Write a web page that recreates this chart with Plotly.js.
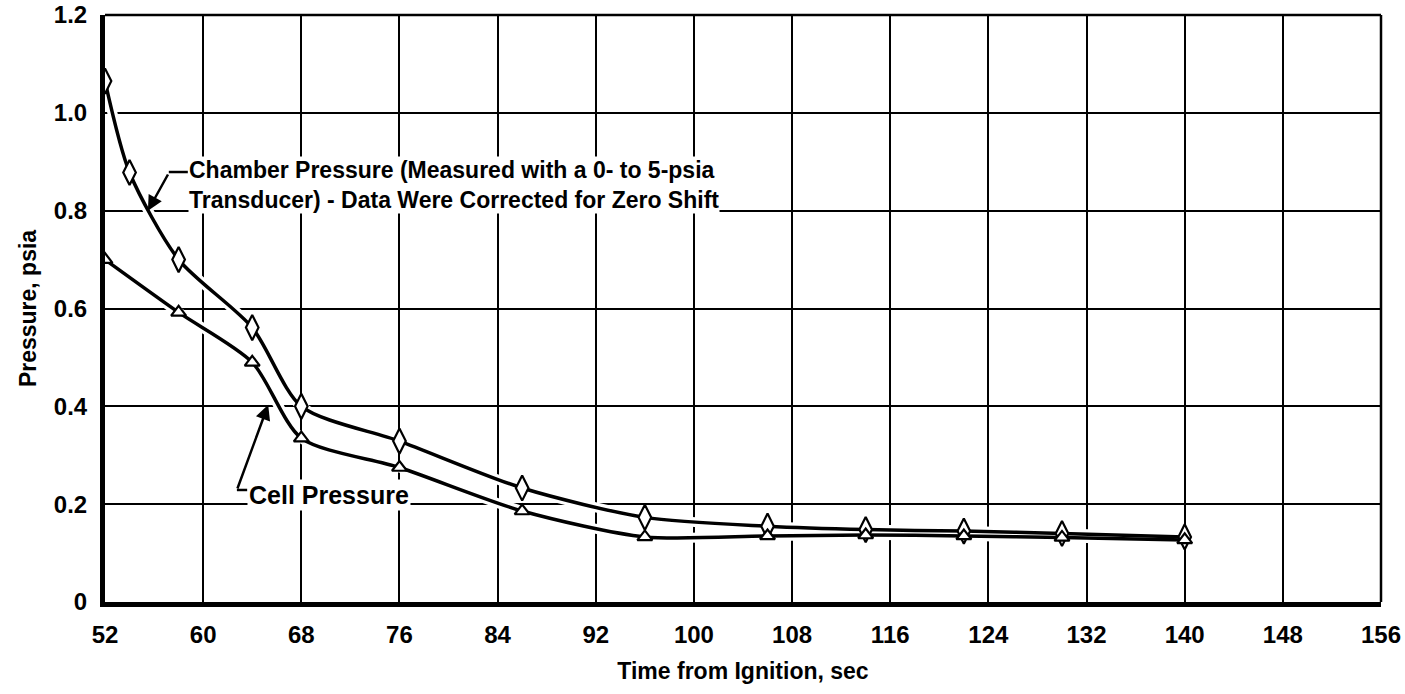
<!DOCTYPE html>
<html>
<head>
<meta charset="utf-8">
<script src="https://cdn.plot.ly/plotly-3.0.1.min.js"></script>
<style>html,body{margin:0;padding:0;background:#fff;}#chart{width:1405px;height:694px;}</style>
</head>
<body>
<div id="chart"></div>
<script>
// ---- data ----
var chamberTime = [52, 54, 58, 64, 68, 76, 86, 96, 106, 114, 122, 130, 140];
var chamberPressure = [1.065, 0.878, 0.70, 0.561, 0.40, 0.329, 0.233, 0.173, 0.155, 0.148, 0.145, 0.140, 0.133];
var cellTime = [52, 58, 64, 68, 76, 86, 96, 106, 114, 122, 130, 140];
var cellPressure = [0.70, 0.592, 0.49, 0.335, 0.275, 0.186, 0.133, 0.135, 0.137, 0.135, 0.132, 0.127];
var xTickVals = [52, 60, 68, 76, 84, 92, 100, 108, 116, 124, 132, 140, 148, 156];
var yTickVals = [0, 0.2, 0.4, 0.6, 0.8, 1.0, 1.2];
var yTickText = ["0", "0.2", "0.4", "0.6", "0.8", "1.0", "1.2"];
var chamberLabel = "Chamber Pressure (Measured with a 0- to 5-psia<br>Transducer) - Data Were Corrected for Zero Shift";
var cellLabel = "Cell Pressure";

var FONT = "Liberation Sans Narrow, Arial Narrow, Liberation Sans, sans-serif";

var halo = {shape: 'spline', smoothing: 0.75, color: '#fff', width: 10};
var traces = [
  {x: chamberTime, y: chamberPressure, mode: 'lines', line: halo, hoverinfo: 'skip', showlegend: false},
  {x: cellTime, y: cellPressure, mode: 'lines', line: halo, hoverinfo: 'skip', showlegend: false},
  {x: chamberTime, y: chamberPressure, mode: 'lines+markers', name: 'Chamber Pressure',
   line: {shape: 'spline', smoothing: 0.75, color: '#000', width: 3.5},
   marker: {symbol: 'diamond-tall', size: 18, color: '#fff', line: {color: '#000', width: 2.2}}, showlegend: false},
  {x: cellTime, y: cellPressure, mode: 'lines+markers', name: 'Cell Pressure',
   line: {shape: 'spline', smoothing: 0.75, color: '#000', width: 3.5},
   marker: {symbol: 'triangle-up', size: 13, color: '#fff', line: {color: '#000', width: 2.2}}, showlegend: false}
];

var layout = {
  width: 1405, height: 694,
  margin: {l: 105, r: 24, t: 15, b: 92},
  paper_bgcolor: '#fff', plot_bgcolor: '#fff',
  font: {family: FONT, color: '#000', size: 24, weight: 'bold'},
  showlegend: false,
  xaxis: {
    range: [52, 156], tickvals: xTickVals, ticktext: xTickVals.map(String),
    showgrid: true, gridcolor: '#000', gridwidth: 2, zeroline: false,
    showline: true, linecolor: '#000', linewidth: 5, ticks: '',
    ticklabelstandoff: 7,
    tickfont: {family: FONT, size: 24, weight: 'bold', color: '#000'},
    title: {text: 'Time from Ignition, sec', standoff: 18, font: {family: FONT, size: 23, weight: 'bold', color: '#000'}}
  },
  yaxis: {
    range: [0, 1.2], tickvals: yTickVals, ticktext: yTickText,
    showgrid: true, gridcolor: '#000', gridwidth: 2, zeroline: false,
    showline: true, linecolor: '#000', linewidth: 5, ticks: '',
    ticklabelstandoff: 8,
    tickfont: {family: FONT, size: 24, weight: 'bold', color: '#000'},
    title: {text: 'Pressure, psia', standoff: 12, font: {family: FONT, size: 23, weight: 'bold', color: '#000'}}
  },
  shapes: [
    {type: 'line', xref: 'paper', yref: 'paper', x0: 0, x1: 1, y0: 1, y1: 1, line: {color: '#000', width: 2.5}},
    {type: 'line', xref: 'paper', yref: 'paper', x0: 1, x1: 1, y0: 0, y1: 1, line: {color: '#000', width: 2.5}},
    {type: 'line', xref: 'x', yref: 'y', x0: 57.2, x1: 58.75, y0: 0.879, y1: 0.879, line: {color: '#000', width: 2.5}},
    {type: 'line', xref: 'x', yref: 'y', x0: 62.75, x1: 63.6, y0: 0.229, y1: 0.229, line: {color: '#000', width: 2.5}}
  ],
  annotations: [
    {x: 58.75, y: 0.853, xref: 'x', yref: 'y', xanchor: 'left', yanchor: 'middle', align: 'left',
     text: chamberLabel, showarrow: false, bgcolor: '#fff', borderpad: 0,
     font: {family: FONT, size: 23, weight: 'bold', color: '#000'}},
    {x: 63.6, y: 0.219, xref: 'x', yref: 'y', xanchor: 'left', yanchor: 'middle', align: 'left',
     text: cellLabel, showarrow: false, bgcolor: '#fff', borderpad: 1,
     font: {family: FONT, size: 25, weight: 'bold', color: '#000'}},
    {x: 55.5, y: 0.80, xref: 'x', yref: 'y', ax: 57.2, ay: 0.877, axref: 'x', ayref: 'y',
     text: '', showarrow: true, arrowhead: 2, arrowsize: 1.2, arrowwidth: 2.5, arrowcolor: '#000', standoff: 0},
    {x: 65.3, y: 0.403, xref: 'x', yref: 'y', ax: 62.75, ay: 0.229, axref: 'x', ayref: 'y',
     text: '', showarrow: true, arrowhead: 2, arrowsize: 1.2, arrowwidth: 2.5, arrowcolor: '#000', standoff: 0}
  ]
};

Plotly.newPlot('chart', traces, layout, {displayModeBar: false, staticPlot: true});
</script>
</body>
</html>
